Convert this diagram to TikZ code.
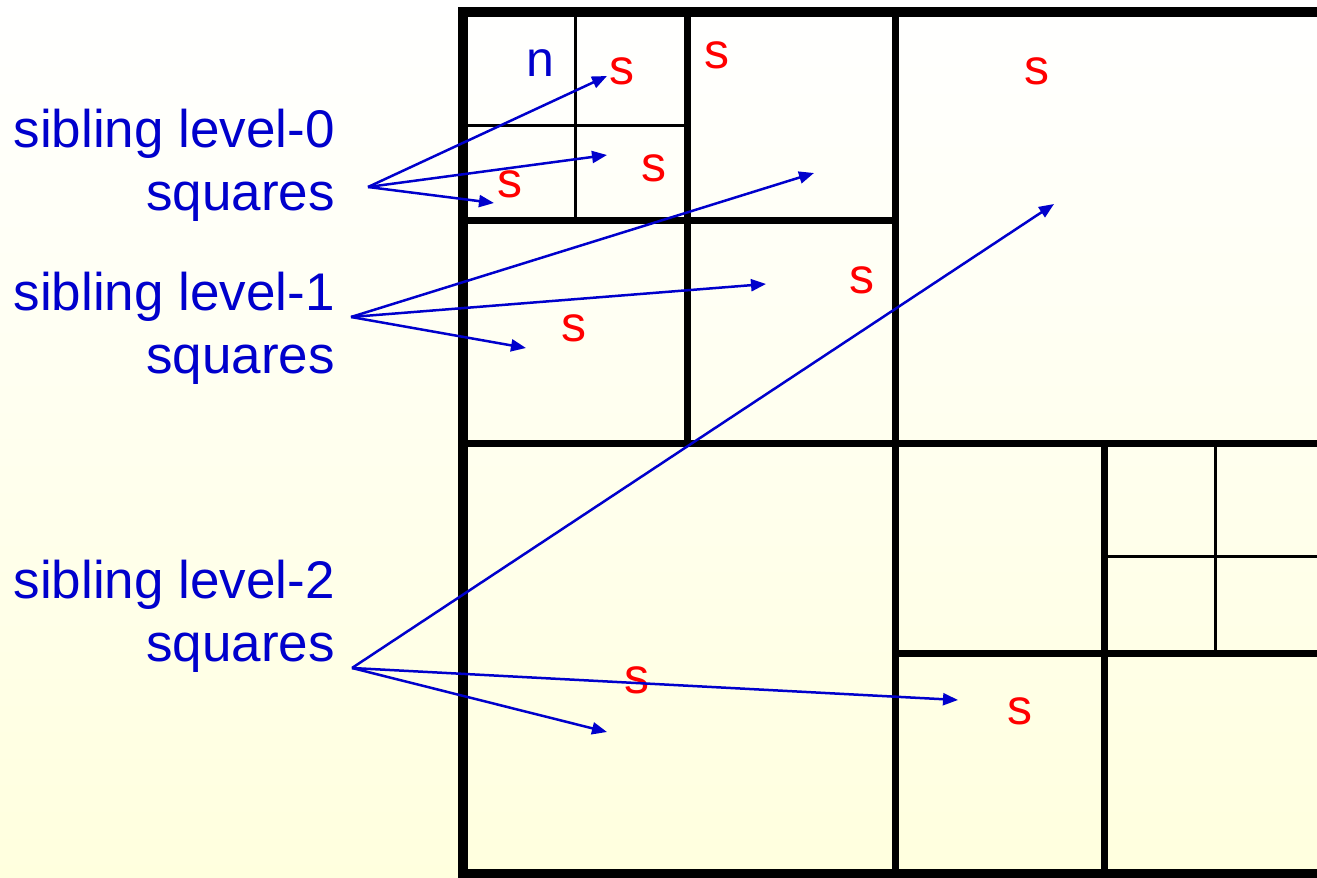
\documentclass[tikz,border=0pt]{standalone}
\usepackage{fontspec}
\setmainfont{Liberation Sans}
\usetikzlibrary{arrows.meta}
\definecolor{sibblue}{RGB}{0,0,204}
\definecolor{sred}{RGB}{255,0,0}
\definecolor{paleyellow}{RGB}{255,255,222}

\begin{document}
\begin{tikzpicture}[x=1pt,y=-1pt,
    lbl/.style={text=sibblue,font=\fontsize{53}{63}\selectfont,align=right,anchor=north east,inner sep=0pt},
    sq/.style={text=sred,font=\fontsize{50}{50}\selectfont,inner sep=0pt},
    nq/.style={text=sibblue,font=\fontsize{50}{50}\selectfont,inner sep=0pt}]
    \useasboundingbox (0,0) rectangle (1317,878);
    \clip (0,0) rectangle (1317,878);
    \shade[top color=white,bottom color=paleyellow] (0,0) rectangle (1317,878);

    % quadtree cells
    \draw[line width=10pt] (463,12) rectangle (1325,874);
    \draw[line width=7pt] (895,12) -- (895,874) (463,443) -- (1325,443)
        (687,12) -- (687,443) (463,220) -- (895,220)
        (1104,443) -- (1104,874) (895,653) -- (1325,653);
    \draw[line width=3pt] (575,12) -- (575,220) (463,125) -- (687,125)
        (1215,443) -- (1215,653) (1104,556) -- (1325,556);

    \node[nq] (n) at (540,63) {n};
    \node[sq] (s1) at (622,71) {s};
    \node[sq] (s2) at (717,55) {s};
    \node[sq] (s3) at (1037,71) {s};
    \node[sq] (s4) at (654,168) {s};
    \node[sq] (s5) at (510,184) {s};
    \node[sq] (s6) at (862,280) {s};
    \node[sq] (s7) at (574,328) {s};
    \node[sq] (s8) at (637,680) {s};
    \node[sq] (s9) at (1020,711) {s};

    \node[lbl] (l0) at (335,109) {sibling level-0\\squares};
    \node[lbl] (l1) at (335,272) {sibling level-1\\squares};
    \node[lbl] (l2) at (335,560) {sibling level-2\\squares};

    \coordinate (o0) at (368,187);
    \coordinate (o1) at (351,317);
    \coordinate (o2) at (352,668);
    \coordinate (t01) at (607,76);
    \coordinate (t02) at (607,155);
    \coordinate (t03) at (494,203);
    \coordinate (t11) at (814,173);
    \coordinate (t12) at (766,284);
    \coordinate (t13) at (526,348);
    \coordinate (t21) at (1054,204);
    \coordinate (t22) at (958,700);
    \coordinate (t23) at (607,732);

    \path[-{Triangle[length=15pt,width=12pt]},sibblue,line width=2.5pt]
    (o0) edge (t01)
    (o0) edge (t02)
    (o0) edge (t03)
    (o1) edge (t11)
    (o1) edge (t12)
    (o1) edge (t13)
    (o2) edge (t21)
    (o2) edge (t22)
    (o2) edge (t23);
\end{tikzpicture}
\end{document}
